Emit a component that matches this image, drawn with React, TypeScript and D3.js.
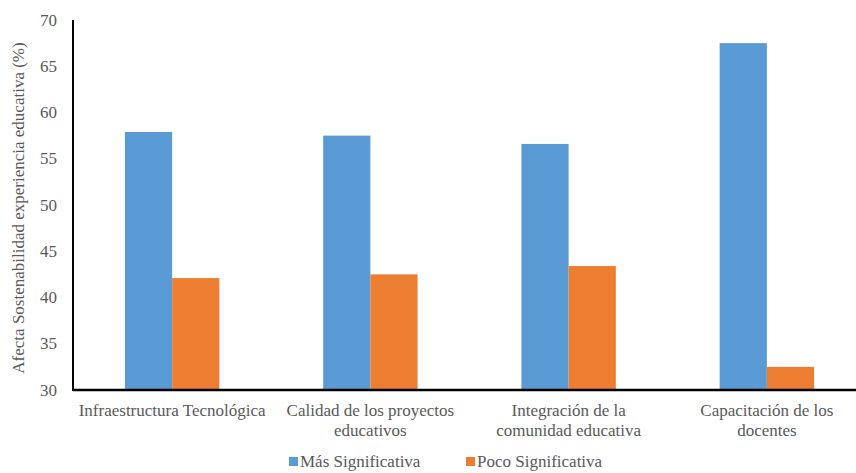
import React from "react";
import * as d3 from "d3";

const categories = [
  "Infraestructura Tecnológica",
  "Calidad de los proyectos educativos",
  "Integración de la comunidad educativa",
  "Capacitación de los docentes",
];
const categoryLines = [
  ["Infraestructura Tecnológica"],
  ["Calidad de los proyectos", "educativos"],
  ["Integración de la", "comunidad educativa"],
  ["Capacitación de los", "docentes"],
];
const seriesNames = ["Más Significativa", "Poco Significativa"];
const masValues = [57.9, 57.5, 56.6, 67.5];
const pocoValues = [42.1, 42.5, 43.4, 32.5];
const yTicks = [30, 35, 40, 45, 50, 55, 60, 65, 70];
const colors = ["#5B9BD5", "#ED7D31"];

const W = 856;
const H = 473;
const left = 73;
const right = 866;
const top = 20;
const bottom = 390;
const FONT = { fontFamily: '"Liberation Serif"' };
const TXT = "#595959";

export default function App() {
  const x = d3.scaleBand<string>().domain(categories).range([left, right]).paddingInner(0).paddingOuter(0);
  const x1 = d3.scaleBand<string>().domain(seriesNames).range([0, x.bandwidth()]).paddingInner(0).paddingOuter(1.1);
  const y = d3.scaleLinear().domain([30, 70]).range([bottom, top]);
  const series = [masValues, pocoValues];
  const legendX = [289, 466];

  return (
    <svg width={W} height={H} style={{ position: "absolute", left: 0, top: 0, background: "#fff" }}>
      {series.map((vals, si) =>
        categories.map((c, ci) => (
          <rect
            key={`${si}-${ci}`}
            x={(x(c) ?? 0) + (x1(seriesNames[si]) ?? 0)}
            y={y(vals[ci])}
            width={x1.bandwidth()}
            height={bottom - y(vals[ci])}
            fill={colors[si]}
          />
        ))
      )}
      <line x1={left} x2={W} y1={bottom} y2={bottom} stroke="#000" strokeWidth={2.5} />
      <line x1={left} x2={left} y1={top} y2={bottom + 1} stroke="#000" strokeWidth={2} />
      {yTicks.map((t) => (
        <text key={t} x={57} y={y(t)} dy="0.33em" textAnchor="end" fontSize={17} fill={TXT} style={FONT}>
          {t}
        </text>
      ))}
      <text
        transform={`translate(18, ${(top + bottom) / 2 + 3}) rotate(-90)`}
        textAnchor="middle"
        fontSize={17}
        fill={TXT}
        dy="0.33em"
        style={FONT}
      >
        Afecta Sostenabilidad experiencia educativa (%)
      </text>
      {categories.map((c, ci) => (
        <text key={c} textAnchor="middle" fontSize={17} fill={TXT} style={FONT}>
          {categoryLines[ci].map((ln, li) => (
            <tspan key={li} x={(x(c) ?? 0) + x.bandwidth() / 2} y={416 + li * 20}>
              {ln}
            </tspan>
          ))}
        </text>
      ))}
      {seriesNames.map((s, si) => (
        <g key={s}>
          <rect x={legendX[si]} y={457} width={9} height={9} fill={colors[si]} />
          <text x={legendX[si] + 11} y={467} fontSize={17} fill={TXT} style={FONT}>
            {s}
          </text>
        </g>
      ))}
    </svg>
  );
}
